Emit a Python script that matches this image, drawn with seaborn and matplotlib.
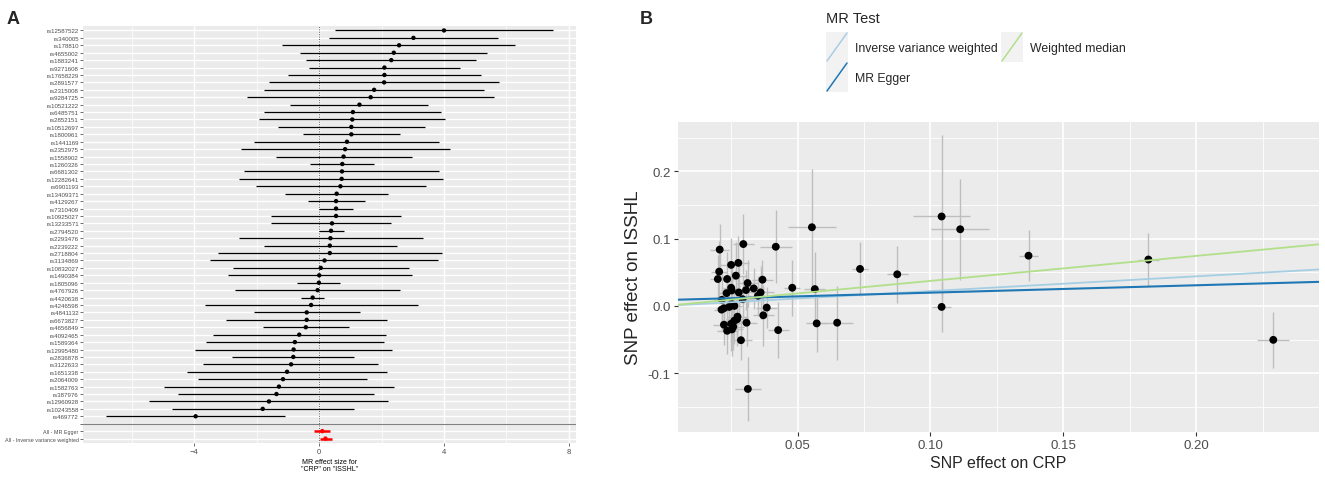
import numpy as np
import pandas as pd
import seaborn as sns
import matplotlib
matplotlib.use("Agg")
from matplotlib import pyplot as plt
from matplotlib import font_manager
from matplotlib.lines import Line2D
from matplotlib.patches import Rectangle

# ---- panel A: single-SNP MR estimates (forest plot)
snps = ["rs12587522", "rs340005", "rs178810", "rs4655002", "rs1883241", "rs9271608",
        "rs17658229", "rs2891577", "rs2315008", "rs9284725", "rs10521222", "rs6485751",
        "rs2852151", "rs10512697", "rs1800961", "rs1441169", "rs2352975", "rs1558902",
        "rs1260326", "rs6681302", "rs12282641", "rs6901193", "rs13409371", "rs4129267",
        "rs7310409", "rs10925027", "rs13233571", "rs2794520", "rs2293476", "rs2239222",
        "rs2718804", "rs3134869", "rs10832027", "rs1490384", "rs1805096", "rs4767926",
        "rs4420638", "rs4246598", "rs4841132", "rs6673827", "rs4656849", "rs4092465",
        "rs1589364", "rs12995480", "rs2836878", "rs3122633", "rs1651338", "rs2064009",
        "rs1582763", "rs387976", "rs12960928", "rs10243558", "rs469772"]
wald_b = [4.00, 3.02, 2.56, 2.39, 2.31, 2.09, 2.09, 2.08, 1.76, 1.65, 1.29, 1.08,
          1.06, 1.03, 1.03, 0.89, 0.83, 0.78, 0.74, 0.73, 0.72, 0.68, 0.56, 0.54,
          0.54, 0.54, 0.41, 0.38, 0.36, 0.34, 0.34, 0.17, 0.05, 0.00, -0.01, -0.05,
          -0.21, -0.26, -0.40, -0.40, -0.43, -0.64, -0.78, -0.82, -0.83, -0.90, -1.03,
          -1.16, -1.29, -1.37, -1.61, -1.81, -3.96]
wald_lo = [0.50, 0.31, -1.19, -0.62, -0.42, -0.33, -0.99, -1.61, -1.78, -2.33, -0.95, -1.77,
           -1.93, -1.32, -0.53, -2.08, -2.52, -1.39, -0.31, -2.40, -2.56, -2.04, -1.10, -0.36,
           0.00, -1.54, -1.53, -0.02, -2.56, -1.78, -3.25, -3.51, -2.77, -2.93, -0.72, -2.69,
           -0.58, -3.66, -2.09, -2.99, -1.81, -3.40, -3.64, -3.97, -2.81, -3.72, -4.24,
           -3.87, -4.97, -4.53, -5.46, -4.72, -6.83]
wald_hi = [7.50, 5.73, 6.28, 5.38, 5.02, 4.52, 5.19, 5.76, 5.29, 5.61, 3.49, 3.89,
           4.02, 3.39, 2.59, 3.85, 4.19, 2.96, 1.76, 3.85, 3.97, 3.42, 2.21, 1.46,
           1.09, 2.61, 2.31, 0.79, 3.33, 2.50, 3.94, 3.82, 2.87, 2.96, 0.68, 2.59,
           0.14, 3.17, 1.30, 2.17, 0.94, 2.13, 2.07, 2.32, 1.13, 1.90, 2.17,
           1.53, 2.39, 1.77, 2.21, 1.11, -1.09]
summary_labels = ["All - MR Egger", "All - Inverse variance weighted"]
summary_b = [0.10, 0.20]
summary_lo = [-0.16, 0.01]
summary_hi = [0.36, 0.41]

# ---- panel B: SNP effects on exposure / outcome
bx = [0.0207, 0.0296, 0.0418, 0.0277, 0.0250, 0.0205, 0.0268, 0.0200, 0.0235, 0.0368,
      0.0480, 0.0312, 0.0250, 0.0252, 0.0306, 0.0335, 0.0279, 0.0361, 0.0233, 0.0215,
      0.0351, 0.0293, 0.0252, 0.0262, 0.0223, 0.0384, 0.0371, 0.0308, 0.0272, 0.0262,
      0.0250, 0.0223, 0.0258, 0.0235, 0.0253, 0.0427, 0.0287, 0.0313, 0.0554, 0.0565,
      0.0572, 0.0649, 0.0735, 0.0875, 0.1042, 0.1112, 0.1042, 0.1369, 0.1820, 0.2290,
      0.0214, 0.0243, 0.0274]
by = [0.0838, 0.092, 0.088, 0.064, 0.061, 0.051, 0.045, 0.040, 0.040, 0.039,
      0.027, 0.034, 0.027, 0.023, 0.0236, 0.026, 0.020, 0.020, 0.019, 0.009,
      0.015, 0.010, 0.003, 0.000, -0.0035, -0.0025, -0.014, -0.025, -0.020, -0.022,
      -0.0265, -0.028, -0.031, -0.037, -0.035, -0.036, -0.051, -0.1235, 0.117, 0.025,
      -0.026, -0.025, 0.055, 0.047, 0.133, 0.114, -0.0015, 0.0747, 0.069, -0.0505,
      -0.0055, -0.0015, -0.016]
se_x = [0.0035, 0.004, 0.006, 0.004, 0.004, 0.003, 0.004, 0.003, 0.004, 0.004,
        0.003, 0.004, 0.003, 0.003, 0.004, 0.004, 0.003, 0.005, 0.003, 0.003,
        0.004, 0.004, 0.003, 0.003, 0.003, 0.004, 0.004, 0.004, 0.004, 0.004,
        0.003, 0.004, 0.004, 0.004, 0.004, 0.004, 0.004, 0.005, 0.009, 0.004,
        0.004, 0.006, 0.003, 0.004, 0.0107, 0.011, 0.0035, 0.0037, 0.004, 0.006,
        0.003, 0.003, 0.004]
se_y = [0.038, 0.045, 0.054, 0.040, 0.040, 0.045, 0.050, 0.035, 0.040, 0.030,
        0.042, 0.035, 0.030, 0.035, 0.030, 0.030, 0.040, 0.040, 0.030, 0.040,
        0.030, 0.035, 0.035, 0.030, 0.030, 0.030, 0.045, 0.035, 0.040, 0.035,
        0.040, 0.030, 0.035, 0.035, 0.040, 0.042, 0.030, 0.047, 0.087, 0.055,
        0.042, 0.055, 0.040, 0.042, 0.121, 0.075, 0.037, 0.038, 0.039, 0.042,
        0.030, 0.035, 0.035]
methods = ["Inverse variance weighted", "MR Egger", "Weighted median"]
slopes = [0.220, 0.110, 0.372]
intercepts = [0.0, 0.0087, 0.0]
method_colors = ["#A6CEE3", "#1F78B4", "#B2DF8A"]

sns.set_theme(style="darkgrid")
plt.rcParams["font.family"] = ["Liberation Sans", "DejaVu Sans"]
plt.rcParams["axes.facecolor"] = "#EBEBEB"
plt.rcParams["grid.color"] = "white"

names = {f.name for f in font_manager.fontManager.ttflist}
narrow = "Liberation Sans Narrow" in names
snp_font = "Liberation Sans Narrow" if narrow else "Liberation Sans"
snp_size = 5.0 if narrow else 4.4
sum_size = 5.0 if narrow else 3.9

W, H = 1325, 485
fig = plt.figure(figsize=(W / 100, H / 100), dpi=100)


def box(l, t, r, b):
    return [l / W, 1 - b / H, (r - l) / W, (b - t) / H]


# ================= panel A
axA = fig.add_axes(box(83, 27, 576, 444))
labels = snps + [""] + summary_labels
dfA = pd.DataFrame({"label": labels,
                    "b": wald_b + [np.nan] + summary_b,
                    "lo": wald_lo + [np.nan] + summary_lo,
                    "hi": wald_hi + [np.nan] + summary_hi})
dfA["pos"] = np.arange(len(dfA))
dfA["summary"] = dfA["label"].isin(summary_labels)
snp_rows = dfA[~dfA["summary"] & (dfA["label"] != "")]
sum_rows = dfA[dfA["summary"]]

blank_pos = dfA.loc[dfA["label"] == "", "pos"].iloc[0]
axA.axhline(blank_pos, color="grey", lw=0.8, zorder=1)
axA.axvline(0, color="#555555", lw=0.7, ls=(0, (1, 1.5)), zorder=1.5)
axA.hlines(snp_rows["pos"], snp_rows["lo"], snp_rows["hi"], color="black", lw=0.9, zorder=2)
sns.scatterplot(data=snp_rows, x="b", y="pos", color="black", s=10, edgecolor="none",
                ax=axA, zorder=3, legend=False)
axA.hlines(sum_rows["pos"], sum_rows["lo"], sum_rows["hi"], color="red", lw=1.8, zorder=2)
sns.scatterplot(data=sum_rows, x="b", y="pos", color="red", s=10, edgecolor="none",
                ax=axA, zorder=3, legend=False)

axA.set_xlim(-7.57, 8.23)
axA.set_ylim(len(dfA) - 1 + 0.6, -0.6)
axA.set_xticks([-4, 0, 4, 8])
axA.set_xticks([-6, -2, 2, 6], minor=True)
axA.set_yticks(dfA["pos"])
axA.set_yticklabels(labels, family=snp_font, color="#4D4D4D")
for t, lab in zip(axA.get_yticklabels(), labels):
    t.set_fontsize(sum_size if lab in summary_labels else snp_size)
axA.tick_params(axis="x", labelsize=5.5, labelcolor="#4D4D4D", length=2, width=0.5,
                color="#333333", pad=1.5, bottom=True)
axA.tick_params(axis="y", length=2, width=0.5, color="#333333", pad=1, left=True)
axA.grid(which="major", color="white", lw=1.0)
axA.grid(which="minor", axis="x", color="white", lw=0.5)
axA.set_ylabel("")
axA.set_xlabel('MR effect size for\n"CRP" on "ISSHL"', fontsize=5, color="black",
               labelpad=2, linespacing=1.0)
for s in axA.spines.values():
    s.set_visible(False)

# ================= panel B
axB = fig.add_axes(box(677.7, 122.7, 1319, 433.3))
dfB = pd.DataFrame({"bx": bx, "by": by, "sx": se_x, "sy": se_y})
axB.errorbar(dfB["bx"], dfB["by"], yerr=dfB["sy"], fmt="none", ecolor="#BEBEBE",
             elinewidth=1.0, capsize=0, zorder=2)
axB.errorbar(dfB["bx"], dfB["by"], xerr=dfB["sx"], fmt="none", ecolor="#BEBEBE",
             elinewidth=1.0, capsize=0, zorder=2)
sns.scatterplot(data=dfB, x="bx", y="by", color="black", s=32, edgecolor="none",
                ax=axB, zorder=3, legend=False)
for m, sl, ic, c in zip(methods, slopes, intercepts, method_colors):
    axB.axline((0, ic), slope=sl, color=c, lw=1.5 if m == "MR Egger" else 1.3, zorder=4)

axB.set_xlim(0.0049, 0.2462)
axB.set_ylim(-0.188, 0.274)
axB.set_xticks([0.05, 0.10, 0.15, 0.20])
axB.set_xticklabels(["0.05", "0.10", "0.15", "0.20"])
axB.set_xticks([0.025, 0.075, 0.125, 0.175, 0.225], minor=True)
axB.set_yticks([-0.1, 0.0, 0.1, 0.2])
axB.set_yticklabels(["-0.1", "0.0", "0.1", "0.2"])
axB.set_yticks([-0.15, -0.05, 0.05, 0.15, 0.25], minor=True)
axB.tick_params(axis="both", which="major", labelsize=9.5, labelcolor="#4D4D4D",
                length=3, width=0.8, color="#333333", pad=2, bottom=True, left=True)
axB.grid(which="major", color="white", lw=1.2)
axB.grid(which="minor", color="white", lw=0.6)
axB.set_xlabel("SNP effect on CRP", fontsize=11.5, labelpad=3)
axB.set_ylabel("SNP effect on ISSHL", fontsize=13.5, labelpad=4)
for s in axB.spines.values():
    s.set_visible(False)

# legend (drawn by hand in ggplot style)
fig.text(826 / W, 1 - 19 / H, "MR Test", fontsize=10.5, va="center", ha="left")
key_x = [826, 1001]
key_y = [33, 63]
label_dx = 29
for i, (m, c) in enumerate(zip(methods, method_colors)):
    col, row = divmod(i, 2)
    x0, y0 = key_x[col], key_y[row]
    fig.add_artist(Rectangle((x0 / W, 1 - (y0 + 30) / H), 22 / W, 30 / H,
                             transform=fig.transFigure, facecolor="#F2F2F2",
                             edgecolor="none"))
    fig.add_artist(Line2D([(x0 + 1) / W, (x0 + 21) / W],
                          [1 - (y0 + 29) / H, 1 - (y0 + 1) / H],
                          transform=fig.transFigure, color=c, lw=1.1))
    fig.text((x0 + label_dx) / W, 1 - (y0 + 16) / H, m, fontsize=8.8,
             va="center", ha="left")

fig.text(7 / W, 1 - 19 / H, "A", fontsize=13, fontweight="bold", va="center", ha="left")
fig.text(640 / W, 1 - 19 / H, "B", fontsize=13, fontweight="bold", va="center", ha="left")

fig.savefig("out.png", dpi=100, facecolor="white")
